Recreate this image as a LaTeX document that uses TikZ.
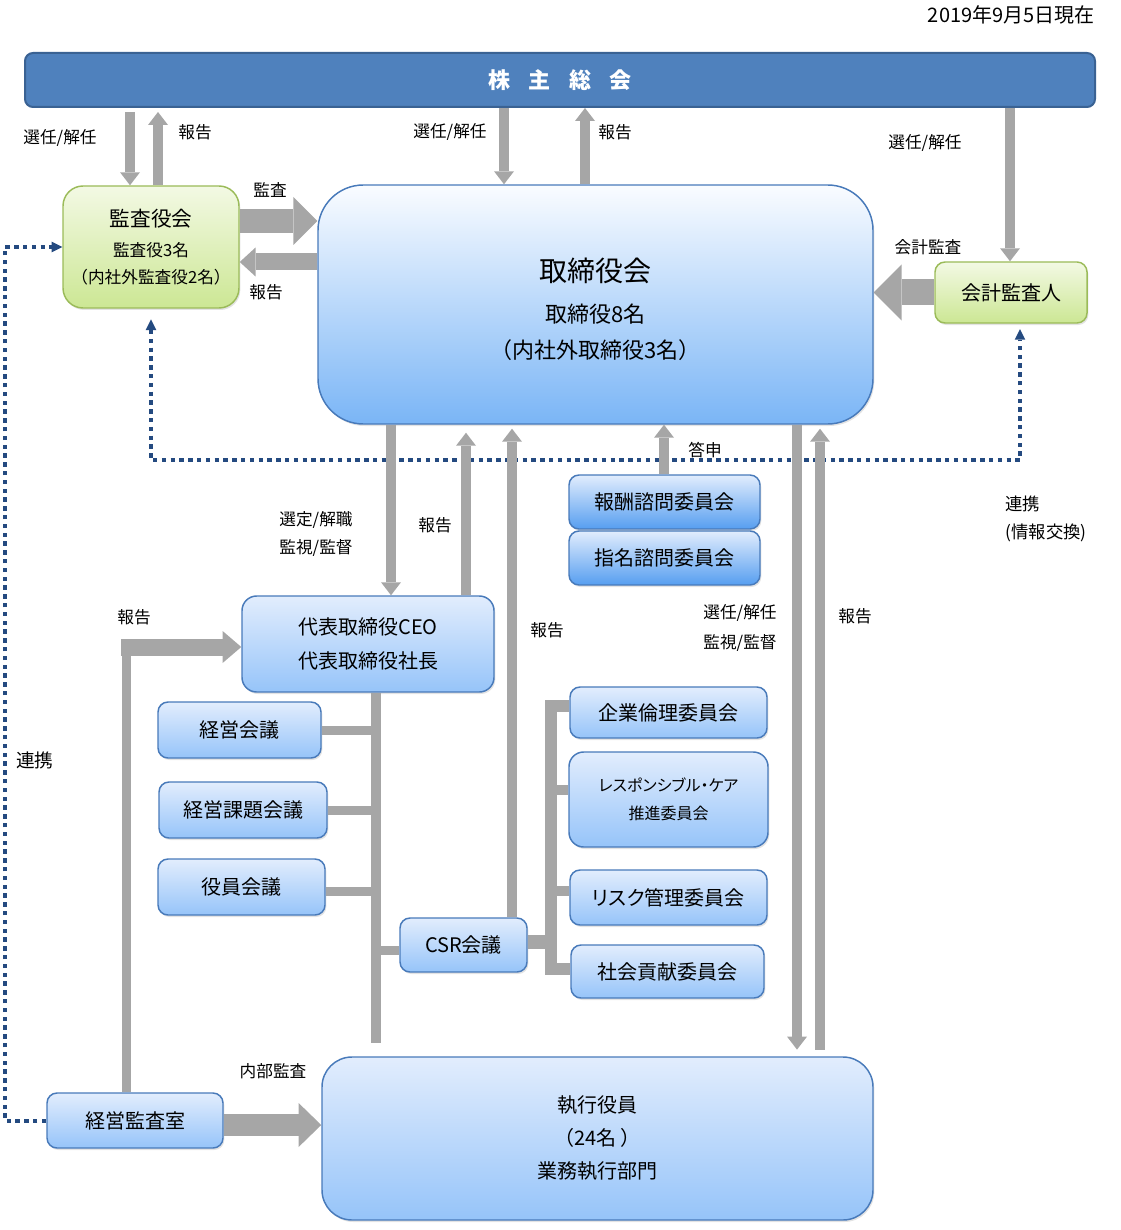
\documentclass[tikz,border=0pt]{standalone}
\usepackage{fontspec}
\setmainfont{Noto Sans CJK JP}
\usetikzlibrary{arrows.meta,shadows}

\definecolor{soukaiblue}{RGB}{79,129,189}
\definecolor{soukaiedge}{RGB}{58,98,147}
\definecolor{boxedge}{RGB}{72,122,186}
\definecolor{greenedge}{RGB}{155,187,89}
\definecolor{greentop}{RGB}{243,249,228}
\definecolor{greenbot}{RGB}{204,231,148}
\definecolor{bluetop}{RGB}{226,237,253}
\definecolor{bluebot}{RGB}{150,196,249}
\definecolor{advmid}{RGB}{200,222,251}
\definecolor{advbot}{RGB}{86,158,240}
\definecolor{boardtop}{RGB}{250,252,255}
\definecolor{boardbot}{RGB}{122,181,246}
\definecolor{arrowgray}{RGB}{166,166,166}
\definecolor{linkblue}{RGB}{36,74,128}

\tikzset{every picture/.style={line width=0.75pt}}
\tikzset{
  basebox/.style={draw=boxedge, line width=1.1pt, inner sep=0pt, align=center,
    drop shadow={shadow xshift=1pt, shadow yshift=-1.5pt, opacity=0.22}},
  bluebox/.style={basebox, rounded corners=7.5pt, top color=bluetop, bottom color=bluebot,
    font=\fontsize{15}{25}\selectfont},
  advbox/.style={basebox, rounded corners=7.5pt, top color=bluetop, middle color=advmid,
    bottom color=advbot, font=\fontsize{15}{25}\selectfont},
  greenbox/.style={basebox, draw=greenedge, top color=greentop, bottom color=greenbot},
  boardbox/.style={basebox, rounded corners=34pt, top color=boardtop, bottom color=boardbot},
  lbl/.style={font=\fontsize{12.5}{21}\selectfont, inner sep=0pt, align=center},
  gline/.style={draw=arrowgray, line width=7.5pt},
  garrow/.style={draw=arrowgray, line width=7.5pt, -{Triangle[width=15pt,length=9.75pt,line width=0pt]}},
  barrow/.style n args={3}{draw=arrowgray, line width=#1, -{Triangle[width=#2,length=#3,line width=0pt]}},
  dotline/.style={draw=linkblue, line width=3pt, dash pattern=on 3.3pt off 3.3pt},
  linktip/.tip={Triangle[width=8pt,length=8pt,line width=0pt]}
}

\begin{document}
\begin{tikzpicture}[x=0.75pt,y=0.75pt,yscale=-1,xscale=1]
	\useasboundingbox (0,0) rectangle (1120,1230);
	
	% Header
	\node[lbl, anchor=east, font=\fontsize{15}{17}\selectfont] (date) at (1095,15) {2019年9月5日現在};
	\node[draw=soukaiedge, line width=1.5pt, fill=soukaiblue, rounded corners=6pt, minimum width=802.5pt, minimum height=40.5pt, text=white, font=\fontsize{16.5}{20}\selectfont\bfseries] (soukai) at (560,80) {株\hspace{14pt}主\hspace{14pt}総\hspace{14pt}会};
	
	% Boxes
	\node[greenbox, rounded corners=15pt, minimum width=132pt, minimum height=91.5pt, font=\fontsize{12.5}{20.25}\selectfont] (kansa) at (151,247) {{\fontsize{15.5}{20}\selectfont 監査役会}\\[2.25pt]監査役3名\\（内社外監査役2名）};
	\node[boardbox, minimum width=416.25pt, minimum height=179.25pt, font=\fontsize{16.5}{27}\selectfont] (board) at (595.5,304.5) {{\fontsize{21}{27}\selectfont\rule{0pt}{25pt}取締役会}\\[4pt]取締役8名\\（内社外取締役3名）};
	\node[greenbox, rounded corners=7.5pt, minimum width=114pt, minimum height=45.75pt, font=\fontsize{15}{20}\selectfont] (kaikei) at (1011,292.5) {会計監査人};
	\node[advbox, minimum width=143.25pt, minimum height=40.5pt] (housyu) at (664.5,502) {報酬諮問委員会};
	\node[advbox, minimum width=143.25pt, minimum height=40.5pt] (shimei) at (664.5,558) {指名諮問委員会};
	\node[bluebox, rounded corners=11pt, minimum width=189pt, minimum height=72pt, font=\fontsize{15}{25.5}\selectfont] (ceo) at (368,644) {代表取締役CEO\\代表取締役社長};
	\node[bluebox, minimum width=122.25pt, minimum height=42pt] (keiei) at (239.5,730) {経営会議};
	\node[bluebox, minimum width=126pt, minimum height=42pt] (kadai) at (243,810) {経営課題会議};
	\node[bluebox, minimum width=125.25pt, minimum height=42pt] (yakuin) at (241.5,887) {役員会議};
	\node[bluebox, minimum width=95.25pt, minimum height=40.5pt] (csr) at (463.5,945) {CSR会議};
	\node[bluebox, minimum width=147.75pt, minimum height=38.25pt] (rinri) at (668.5,712.5) {企業倫理委員会};
	\node[bluebox, rounded corners=11pt, minimum width=149.25pt, minimum height=71.25pt, font=\fontsize{12}{21}\selectfont\addfontfeatures{CharacterWidth=AlternateProportional}] (rc) at (668.5,799.5) {レスポンシブル・ケア\\推進委員会};
	\node[bluebox, minimum width=147.75pt, minimum height=41.25pt, font=\fontsize{15}{25}\selectfont\addfontfeatures{CharacterWidth=AlternateProportional}] (risk) at (668.5,897.5) {リスク管理委員会};
	\node[bluebox, minimum width=144.75pt, minimum height=39.75pt] (shakai) at (667.5,971.5) {社会貢献委員会};
	\node[bluebox, rounded corners=22.5pt, minimum width=413.25pt, minimum height=122.25pt, font=\fontsize{15}{24.75}\selectfont] (shikko) at (597.5,1138.5) {執行役員\\（24名 ）\\業務執行部門};
	\node[bluebox, minimum width=132pt, minimum height=41.25pt] (kansashitsu) at (135,1120.5) {経営監査室};
	
	% Labels
	\node[lbl] (l_sel1) at (60,138) {選任/解任};
	\node[lbl] (l_rep1) at (195,132) {報告};
	\node[lbl] (l_sel2) at (450,132) {選任/解任};
	\node[lbl] (l_rep2) at (615,132) {報告};
	\node[lbl] (l_sel3) at (925,143) {選任/解任};
	\node[lbl] (l_audit) at (270,190) {監査};
	\node[lbl] (l_rep3) at (266,292) {報告};
	\node[lbl] (l_acct) at (928,247) {会計監査};
	\node[lbl] (l_toshin) at (705,450) {答申};
	\node[lbl] (l_ceo) at (316,534) {選定/解職\\監視/監督};
	\node[lbl] (l_rep4) at (435,525) {報告};
	\node[lbl] (l_rep5) at (547,630) {報告};
	\node[lbl, font=\fontsize{12.5}{22.5}\selectfont] (l_exec) at (740,628) {選任/解任\\監視/監督};
	\node[lbl] (l_rep6) at (855,616) {報告};
	\node[lbl, anchor=west, align=left, font=\fontsize{13}{21}\selectfont] (l_link2) at (1005,519) {連携\\(情報交換)};
	\node[lbl, font=\fontsize{14}{16}\selectfont] (l_link1) at (35,760) {連携};
	\node[lbl] (l_rep7) at (134,617) {報告};
	\node[lbl] (l_naibu) at (273,1071) {内部監査};
	
	% Dotted links
	\draw[dotline, -linktip] (kansashitsu.west) -| (5,0 |- kansa.west) -- (kansa.west);
	\draw[dotline, linktip-linktip, shorten <=8pt, shorten >=4pt] (kansa.south) |- (1020,460) -- (1020,0 |- kaikei.south);
	
	% Shareholders
	\draw[garrow, shorten <=3pt] (130,0 |- soukai.south) -- (130,0 |- kansa.north);
	\draw[garrow, shorten >=3pt] (158,0 |- kansa.north) -- (158,0 |- soukai.south);
	\draw[garrow] (504,0 |- soukai.south) -- (504,0 |- board.north);
	\draw[garrow] (585,0 |- board.north) -- (585,0 |- soukai.south);
	\draw[garrow] (1010,0 |- soukai.south) -- (1010,0 |- kaikei.north);
	
	% Audit
	\draw[barrow={18pt}{36pt}{18pt}] (kansa.east |- 0,221) -- (board.west |- 0,221);
	\draw[barrow={12.75pt}{22pt}{12pt}] (board.west |- 0,262) -- (kansa.east |- 0,262);
	\draw[barrow={19.5pt}{42pt}{21pt}] (kaikei.west) -- (board.east |- kaikei.west);
	
	% Board to below
	\draw[garrow] (391,0 |- board.south) -- (391,0 |- ceo.north);
	\draw[garrow, shorten >=6pt] (466,0 |- ceo.north) -- (466,0 |- board.south);
	\draw[garrow, shorten >=3pt] (512,0 |- csr.north) -- (512,0 |- board.south);
	\draw[garrow] (664,0 |- housyu.north) -- (664,0 |- board.south);
	\draw[garrow, shorten >=5pt] (797,0 |- board.south) -- (797,0 |- shikko.north);
	\draw[garrow, shorten <=5pt, shorten >=3pt] (820,0 |- shikko.north) -- (820,0 |- board.south);
	
	% CEO trunk
	\coordinate (trunkend) at (376,1043);
	\draw[gline] (376,0 |- ceo.south) -- (trunkend);
	\draw[gline, line width=6.75pt] (keiei.east) -- (376,0 |- keiei.east);
	\draw[gline, line width=6.75pt] (kadai.east) -- (376,0 |- kadai.east);
	\draw[gline, line width=6.75pt] (yakuin.east |- 0,891) -- (376,891);
	\draw[gline, line width=6.75pt] (csr.west |- 0,950) -- (376,950);
	
	% CSR committees
	\draw[gline, line width=10pt] (csr.east |- 0,942) -- (551,942);
	\draw[gline, line width=9pt] (rinri.west |- 0,706) -| (551,969) -- (shakai.west |- 0,969);
	\draw[gline] (551,790) -- (rc.west |- 0,790);
	\draw[gline] (551,891) -- (risk.west |- 0,891);
	
	% Internal audit
	\coordinate (rep) at (126,647);
	\draw[gline, line width=6.75pt] (kansashitsu.north -| rep) -- (rep);
	\draw[barrow={12.75pt}{24pt}{14pt}] (121,647) -- (ceo.west |- rep);
	\draw[barrow={17pt}{33pt}{17pt}] (kansashitsu.east |- 0,1125) -- (shikko.west |- 0,1125);
	
\end{tikzpicture}
\end{document}
